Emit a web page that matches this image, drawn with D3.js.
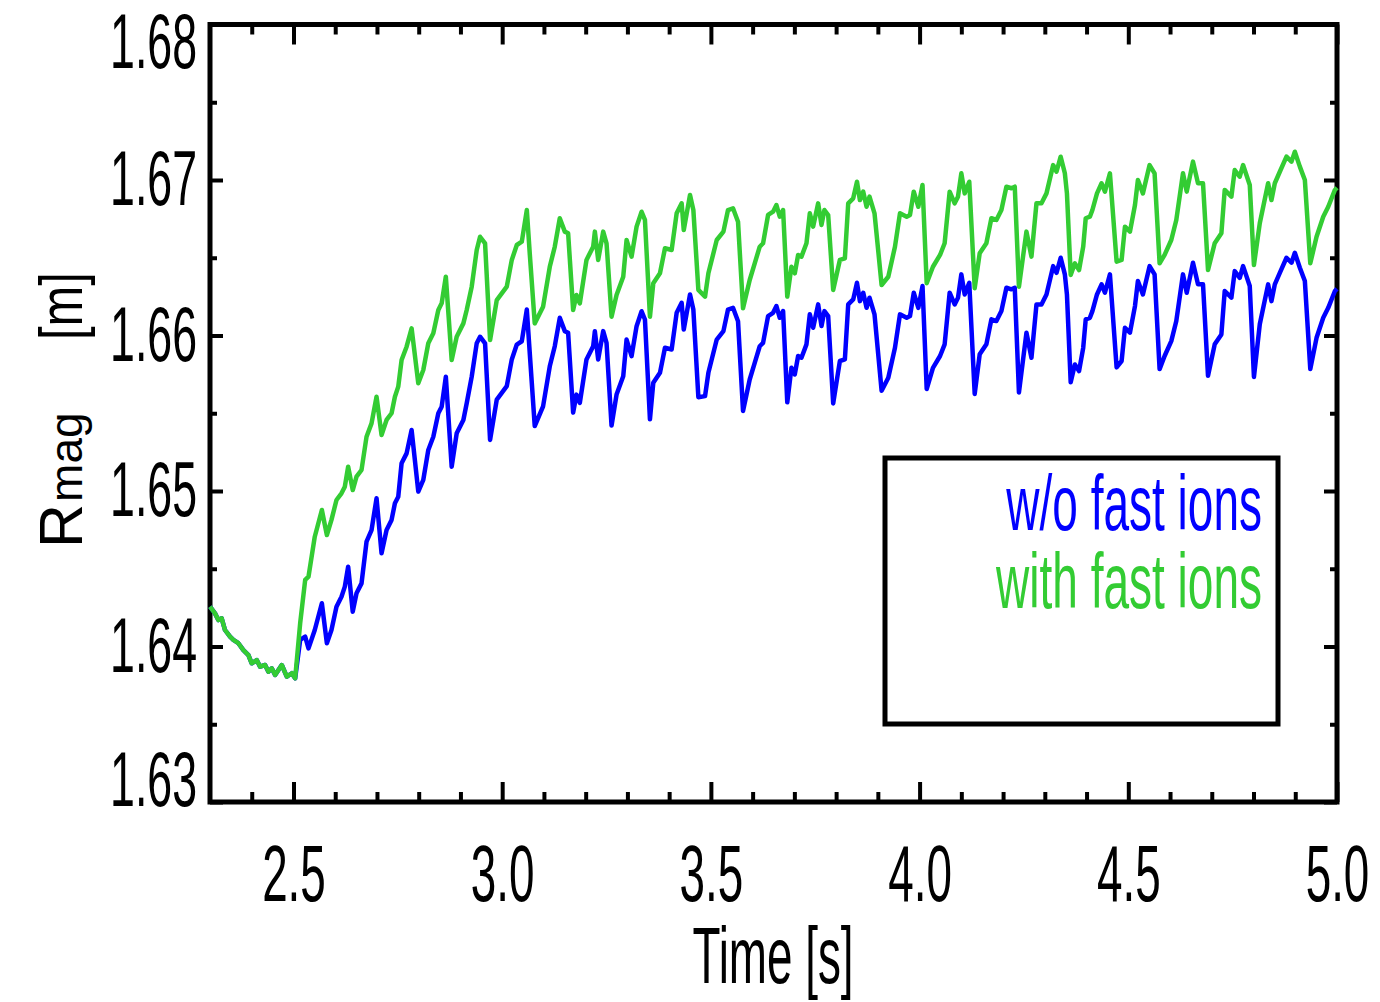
<!DOCTYPE html>
<html>
<head>
<meta charset="utf-8">
<script src="https://cdn.jsdelivr.net/npm/d3@7"></script>
<style>
  body { margin: 0; background: #fff; }
  svg text { font-family: "Liberation Sans", Arial, sans-serif; fill: #000; }
</style>
</head>
<body>
<svg id="chart" width="1380" height="1002"></svg>
<script>
// time [s]
var time = [
  2.300, 2.312, 2.320, 2.328, 2.336, 2.348, 2.356, 2.368, 2.380, 2.392,
  2.400, 2.412, 2.420, 2.432, 2.440, 2.448, 2.456, 2.472, 2.484, 2.496,
  2.504,
  2.516, 2.528, 2.536, 2.551, 2.568, 2.580, 2.591, 2.603, 2.615, 2.623,
  2.631, 2.642, 2.651, 2.663, 2.675, 2.687, 2.699, 2.711, 2.723, 2.735,
  2.743, 2.751, 2.759, 2.771, 2.783, 2.799, 2.811, 2.823, 2.835, 2.847,
  2.855, 2.865, 2.879, 2.891, 2.907, 2.915, 2.927, 2.939, 2.947, 2.959,
  2.971,
  2.987, 3.011, 3.023, 3.035, 3.047, 3.059, 3.066, 3.078, 3.098, 3.114,
  3.126, 3.138, 3.150, 3.158, 3.170, 3.178, 3.186, 3.202, 3.218, 3.222,
  3.230, 3.242, 3.250, 3.262, 3.274, 3.290, 3.298, 3.310, 3.322, 3.334,
  3.342, 3.354, 3.362, 3.378, 3.390, 3.406, 3.418, 3.430, 3.435, 3.450,
  3.458, 3.470, 3.486, 3.494, 3.514, 3.530, 3.541, 3.553, 3.565, 3.577,
  3.593, 3.605, 3.617, 3.625, 3.637, 3.649, 3.657, 3.665,
  3.673, 3.683, 3.693, 3.701, 3.709, 3.717, 3.729, 3.737, 3.745, 3.757,
  3.765, 3.772, 3.781, 3.793, 3.809, 3.821, 3.829, 3.841, 3.850, 3.857,
  3.865, 3.873, 3.880, 3.892, 3.909, 3.925, 3.941, 3.953, 3.969, 3.977,
  3.986, 3.997, 4.007, 4.017, 4.032, 4.049, 4.060, 4.072, 4.084, 4.092,
  4.100, 4.108, 4.119, 4.132, 4.144, 4.160, 4.172, 4.184, 4.196, 4.208,
  4.220, 4.228, 4.238, 4.256, 4.268, 4.280, 4.292, 4.304, 4.320, 4.328,
  4.338, 4.348, 4.353, 4.362, 4.372, 4.382, 4.392, 4.398, 4.408, 4.414,
  4.425, 4.436, 4.444, 4.456, 4.472, 4.484, 4.492, 4.504, 4.516, 4.523,
  4.535, 4.551, 4.563, 4.575, 4.587, 4.603, 4.615, 4.631, 4.640, 4.655,
  4.667, 4.679, 4.691, 4.707, 4.723, 4.731, 4.747, 4.755, 4.767, 4.775,
  4.791, 4.801, 4.815, 4.835, 4.843, 4.851, 4.863, 4.879, 4.891, 4.899,
  4.911, 4.923, 4.936, 4.951, 4.967, 4.979, 4.995, 5.000
];

// R_mag [m] with fast ions (green)
var rmagWith = [
  1.64256, 1.64213, 1.64170, 1.64181, 1.64106, 1.64063, 1.64042, 1.64021, 1.63977, 1.63945,
  1.63892, 1.63913, 1.63870, 1.63881, 1.63838, 1.63860, 1.63817, 1.63881, 1.63806, 1.63828,
  1.63795,
  1.64149, 1.64428, 1.64449, 1.64706, 1.64878, 1.64717, 1.64814, 1.64942, 1.64985, 1.65028,
  1.65156, 1.65006, 1.65092, 1.65135, 1.65349, 1.65435, 1.65606, 1.65360, 1.65457, 1.65500,
  1.65606, 1.65671, 1.65842, 1.65928, 1.66046, 1.65693, 1.65778, 1.65950, 1.66014, 1.66164,
  1.66207, 1.66378, 1.65842, 1.65992, 1.66078, 1.66164, 1.66314, 1.66550, 1.66635, 1.66593,
  1.65971,
  1.66228, 1.66314, 1.66486, 1.66582, 1.66603, 1.66807, 1.66529, 1.66078, 1.66185, 1.66442,
  1.66571, 1.66754, 1.66668, 1.66657, 1.66164, 1.66260, 1.66207, 1.66486, 1.66571, 1.66668,
  1.66486, 1.66668, 1.66593, 1.66121, 1.66260, 1.66378, 1.66614, 1.66507, 1.66700, 1.66796,
  1.66743, 1.66121, 1.66336, 1.66400, 1.66561, 1.66550, 1.66786, 1.66850, 1.66678, 1.66904,
  1.66807, 1.66293, 1.66250, 1.66400, 1.66614, 1.66668, 1.66807, 1.66818, 1.66732, 1.66175,
  1.66357, 1.66464, 1.66571, 1.66593, 1.66775, 1.66796, 1.66839, 1.66764,
  1.66807, 1.66250, 1.66442, 1.66400, 1.66518, 1.66507, 1.66593, 1.66786, 1.66700, 1.66850,
  1.66711, 1.66807, 1.66775, 1.66293, 1.66486, 1.66496, 1.66850, 1.66882, 1.66989, 1.66871,
  1.66925, 1.66828, 1.66893, 1.66786, 1.66325, 1.66378, 1.66571, 1.66786, 1.66764, 1.66775,
  1.66925, 1.66828, 1.66968, 1.66336, 1.66442, 1.66518, 1.66593, 1.66925, 1.66850, 1.66893,
  1.67043, 1.66914, 1.66989, 1.66304, 1.66529, 1.66593, 1.66754, 1.66743, 1.66807, 1.66957,
  1.66947, 1.66957, 1.66314, 1.66668, 1.66507, 1.66850, 1.66850, 1.66914, 1.67096, 1.67053,
  1.67150, 1.67043, 1.66914, 1.66389, 1.66464, 1.66421, 1.66571, 1.66754, 1.66764, 1.66807,
  1.66914, 1.66979, 1.66925, 1.67043, 1.66475, 1.66486, 1.66700, 1.66668, 1.66839, 1.67000,
  1.66914, 1.67096, 1.67043, 1.66464, 1.66518, 1.66614, 1.66743, 1.67043, 1.66925, 1.67118,
  1.66979, 1.66979, 1.66421, 1.66593, 1.66657, 1.66936, 1.66893, 1.67064, 1.67021, 1.67096,
  1.66968, 1.66453, 1.66722, 1.66979, 1.66871, 1.66979, 1.67053, 1.67150, 1.67118, 1.67182,
  1.67086, 1.67000, 1.66464, 1.66635, 1.66764, 1.66828, 1.66936, 1.66950
];

// R_mag [m] without fast ions (blue)
var rmagWithout = [
  1.64256, 1.64213, 1.64170, 1.64181, 1.64106, 1.64063, 1.64042, 1.64021, 1.63977, 1.63945,
  1.63892, 1.63913, 1.63870, 1.63881, 1.63838, 1.63860, 1.63817, 1.63881, 1.63806, 1.63828,
  1.63795,
  1.64042, 1.64063, 1.63988, 1.64106, 1.64278, 1.64021, 1.64106, 1.64256, 1.64320, 1.64385,
  1.64513, 1.64224, 1.64342, 1.64406, 1.64674, 1.64749, 1.64953, 1.64599, 1.64749, 1.64814,
  1.64921, 1.64963, 1.65178, 1.65242, 1.65392, 1.64996, 1.65071, 1.65264, 1.65349, 1.65500,
  1.65542, 1.65735, 1.65156, 1.65371, 1.65457, 1.65564, 1.65735, 1.65950, 1.65992, 1.65950,
  1.65328,
  1.65588, 1.65674, 1.65846, 1.65942, 1.65963, 1.66167, 1.65889, 1.65418, 1.65545, 1.65802,
  1.65931, 1.66114, 1.66028, 1.66017, 1.65504, 1.65620, 1.65567, 1.65846, 1.65931, 1.66028,
  1.65846, 1.66028, 1.65953, 1.65421, 1.65620, 1.65738, 1.65974, 1.65867, 1.66060, 1.66156,
  1.66103, 1.65461, 1.65696, 1.65760, 1.65921, 1.65910, 1.66146, 1.66210, 1.66038, 1.66264,
  1.66167, 1.65603, 1.65610, 1.65760, 1.65974, 1.66028, 1.66167, 1.66178, 1.66092, 1.65515,
  1.65717, 1.65824, 1.65931, 1.65953, 1.66125, 1.66146, 1.66189, 1.66114,
  1.66157, 1.65570, 1.65792, 1.65750, 1.65868, 1.65857, 1.65943, 1.66136, 1.66050, 1.66200,
  1.66061, 1.66157, 1.66125, 1.65563, 1.65836, 1.65846, 1.66200, 1.66232, 1.66339, 1.66221,
  1.66275, 1.66178, 1.66243, 1.66136, 1.65645, 1.65728, 1.65921, 1.66136, 1.66114, 1.66125,
  1.66275, 1.66178, 1.66318, 1.65656, 1.65792, 1.65868, 1.65943, 1.66275, 1.66200, 1.66243,
  1.66393, 1.66264, 1.66339, 1.65624, 1.65879, 1.65943, 1.66104, 1.66093, 1.66157, 1.66307,
  1.66297, 1.66307, 1.65634, 1.66018, 1.65857, 1.66200, 1.66200, 1.66264, 1.66446, 1.66403,
  1.66500, 1.66393, 1.66264, 1.65699, 1.65814, 1.65771, 1.65921, 1.66104, 1.66114, 1.66157,
  1.66264, 1.66329, 1.66275, 1.66393, 1.65795, 1.65836, 1.66050, 1.66018, 1.66189, 1.66350,
  1.66264, 1.66446, 1.66393, 1.65784, 1.65868, 1.65964, 1.66093, 1.66393, 1.66275, 1.66468,
  1.66329, 1.66329, 1.65741, 1.65943, 1.66007, 1.66286, 1.66243, 1.66414, 1.66371, 1.66446,
  1.66318, 1.65733, 1.66072, 1.66329, 1.66221, 1.66329, 1.66403, 1.66500, 1.66468, 1.66532,
  1.66436, 1.66350, 1.65784, 1.65985, 1.66114, 1.66178, 1.66286, 1.66300
];

var xMajorTicks = [2.5, 3.0, 3.5, 4.0, 4.5, 5.0],
    xMinorTicks = [2.4, 2.6, 2.7, 2.8, 2.9, 3.1, 3.2, 3.3, 3.4, 3.6, 3.7, 3.8, 3.9,
                   4.1, 4.2, 4.3, 4.4, 4.6, 4.7, 4.8, 4.9],
    yMajorTicks = [1.63, 1.64, 1.65, 1.66, 1.67, 1.68],
    yMinorTicks = [1.635, 1.645, 1.655, 1.665, 1.675];

var seriesNames = ["w/o fast ions", "with fast ions"],
    seriesColors = ["#0000ff", "#33cc33"];

var plotLeft = 210, plotRight = 1337, plotTop = 24.5, plotBottom = 802,
    squeeze = 0.58;

var x = d3.scaleLinear().domain([2.3, 5.0]).range([plotLeft, plotRight]);
var y = d3.scaleLinear().domain([1.63, 1.68]).range([plotBottom, plotTop]);

var svg = d3.select("#chart");

function styleAxis(g) {
  g.select(".domain").remove();
  g.selectAll(".tick line").attr("stroke", "#000").attr("stroke-width", 4);
}

// x axes (bottom with labels, top without)
svg.append("g")
    .attr("transform", "translate(0," + plotBottom + ")")
    .call(d3.axisBottom(x).tickValues(xMinorTicks).tickSize(-10).tickFormat(""))
    .call(styleAxis);

svg.append("g")
    .attr("transform", "translate(0," + plotBottom + ")")
    .call(d3.axisBottom(x).tickValues(xMajorTicks).tickSize(-20).tickPadding(43).tickFormat(d3.format(".1f")))
    .call(styleAxis)
  .selectAll("text")
    .attr("font-size", 79)
    .attr("font-family", "Liberation Sans, Arial, sans-serif")
    .attr("transform", "scale(" + squeeze + ",1)");

svg.append("g")
    .attr("transform", "translate(0," + plotTop + ")")
    .call(d3.axisTop(x).tickValues(xMinorTicks).tickSize(-10).tickFormat(""))
    .call(styleAxis);

svg.append("g")
    .attr("transform", "translate(0," + plotTop + ")")
    .call(d3.axisTop(x).tickValues(xMajorTicks).tickSize(-20).tickFormat(""))
    .call(styleAxis);

// y axes (left with labels, right without)
svg.append("g")
    .attr("transform", "translate(" + plotLeft + ",0)")
    .call(d3.axisLeft(y).tickValues(yMinorTicks).tickSize(-7).tickFormat(""))
    .call(styleAxis);

svg.append("g")
    .attr("transform", "translate(" + plotLeft + ",0)")
    .call(d3.axisLeft(y).tickValues(yMajorTicks).tickSize(-13).tickPadding(13).tickFormat(d3.format(".2f")))
    .call(styleAxis)
  .selectAll("text")
    .attr("font-size", 77)
    .attr("font-family", "Liberation Sans, Arial, sans-serif")
    .attr("x", -13 / squeeze)
    // first and last labels are kept inside the frame
    .attr("y", function(d) { var p = y(d); return Math.max(43, Math.min(781, p)) - p; })
    .attr("transform", "scale(" + squeeze + ",1)");

svg.append("g")
    .attr("transform", "translate(" + plotRight + ",0)")
    .call(d3.axisRight(y).tickValues(yMinorTicks).tickSize(-7).tickFormat(""))
    .call(styleAxis);

svg.append("g")
    .attr("transform", "translate(" + plotRight + ",0)")
    .call(d3.axisRight(y).tickValues(yMajorTicks).tickSize(-13).tickFormat(""))
    .call(styleAxis);

// frame
svg.append("rect")
    .attr("x", plotLeft)
    .attr("y", plotTop)
    .attr("width", plotRight - plotLeft)
    .attr("height", plotBottom - plotTop)
    .attr("fill", "none")
    .attr("stroke", "#000")
    .attr("stroke-width", 5);

// curves
var line = d3.line()
    .x(function(d, i) { return x(time[i]); })
    .y(function(d) { return y(d); });

svg.selectAll(".curve")
    .data([rmagWithout, rmagWith])
  .enter().append("path")
    .attr("class", "curve")
    .attr("d", line)
    .attr("fill", "none")
    .attr("stroke", function(d, i) { return seriesColors[i]; })
    .attr("stroke-width", 4.5)
    .attr("stroke-linejoin", "round");

// axis titles
svg.append("g")
    .attr("transform", "translate(773,983) scale(" + squeeze + ",1)")
  .append("text")
    .attr("text-anchor", "middle")
    .attr("font-size", 79)
    .text("Time [s]");

var ytitle = svg.append("g")
    .attr("transform", "translate(82,548) rotate(-90)");
var ymain = ytitle.append("text")
    .attr("font-size", 61);
ymain.append("tspan").text("R");
ymain.append("tspan").attr("font-size", 46).attr("dx", 2).text("mag");
ytitle.append("text")
    .attr("transform", "translate(208,0) scale(0.8,1)")
    .attr("font-size", 61)
    .text("[m]");

// legend
svg.append("rect")
    .attr("x", 885)
    .attr("y", 458)
    .attr("width", 393)
    .attr("height", 266)
    .attr("fill", "#fff")
    .attr("stroke", "#000")
    .attr("stroke-width", 5);

svg.selectAll(".legend")
    .data(seriesNames)
  .enter().append("g")
    .attr("class", "legend")
    .attr("transform", function(d, i) { return "translate(1262," + (530 + i * 78) + ") scale(0.59,1)"; })
  .append("text")
    .attr("text-anchor", "end")
    .attr("font-size", 78)
    .style("fill", function(d, i) { return seriesColors[i]; })
    .text(function(d) { return d; });
</script>
</body>
</html>
